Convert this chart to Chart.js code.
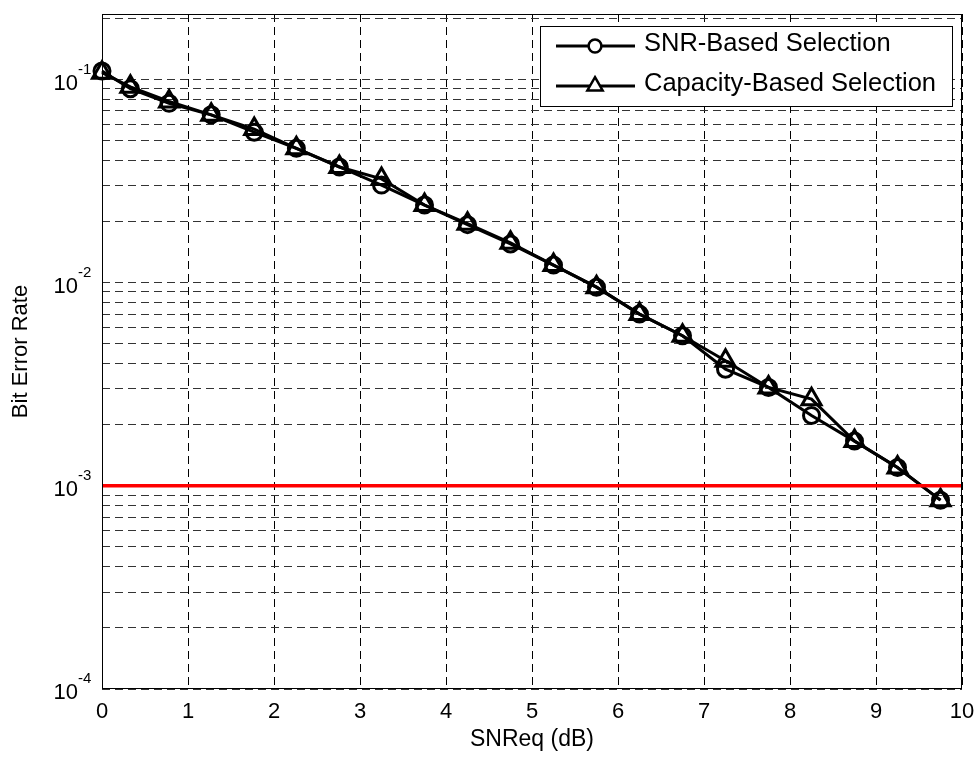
<!DOCTYPE html>
<html><head><meta charset="utf-8">
<script src="https://cdn.jsdelivr.net/npm/chart.js@4.4.1/dist/chart.umd.min.js"></script>
<style>html,body{margin:0;padding:0;background:#fff}#wrap{width:977px;height:758px}</style>
</head><body><div id="wrap"><canvas id="c" width="977" height="758"></canvas></div>
<script>
const snrDb = [0, 0.33, 0.78, 1.27, 1.77, 2.26, 2.76, 3.25, 3.75, 4.25, 4.75, 5.25, 5.75, 6.25, 6.75, 7.25, 7.75, 8.25, 8.75, 9.25, 9.75];
const berSnrBased = [0.110, 0.090, 0.0763, 0.067, 0.055, 0.0458, 0.0371, 0.0302, 0.0241, 0.0193, 0.0155, 0.0122, 0.0095, 0.0070, 0.00548, 0.00375, 0.00305, 0.00222, 0.00166, 0.00123, 0.00085];
const berCapacityBased = [0.108, 0.092, 0.078, 0.067, 0.057, 0.0458, 0.0371, 0.0324, 0.0241, 0.0195, 0.0157, 0.0122, 0.0095, 0.0070, 0.00548, 0.00413, 0.00305, 0.00267, 0.00166, 0.00123, 0.00085];
const targetBer = 1e-3;
const targetX = [0, 10];
const xTicks = [0, 1, 2, 3, 4, 5, 6, 7, 8, 9, 10];
const yDecades = [1e-4, 1e-3, 1e-2, 1e-1];
const yDecadeExponents = ['-4', '-3', '-2', '-1'];
const yMinorMultipliers = [2, 3, 4, 5, 6, 7, 8, 9];
const seriesNames = ['SNR-Based Selection', 'Capacity-Based Selection'];
const yMin = 1e-4, yMax = 0.21;

const FONT = '"Liberation Sans", Arial, sans-serif';

const overlay = {
  id: 'overlay',
  afterDraw(chart) {
    const ctx = chart.ctx, ca = chart.chartArea, ys = chart.scales.y;
    ctx.save();
    ctx.fillStyle = '#000';
    yDecades.forEach((v, i) => {
      const py = ys.getPixelForValue(v);
      ctx.font = '22px ' + FONT;
      ctx.textAlign = 'right'; ctx.textBaseline = 'middle';
      ctx.fillText('10', ca.left - 24, py + 4);
      ctx.font = '15px ' + FONT;
      ctx.textAlign = 'left';
      ctx.fillText(yDecadeExponents[i], ca.left - 24, py - 10);
    });
    const lx = 540, ly = 26, lw = 412, lh = 80;
    ctx.fillStyle = '#fff';
    ctx.fillRect(lx, ly, lw, lh);
    ctx.strokeStyle = '#000'; ctx.lineWidth = 1;
    ctx.strokeRect(lx + 0.5, ly + 0.5, lw, lh);
    const rows = [ly + 20, ly + 60];
    chart.data.datasets.slice(0, 2).forEach((ds, i) => {
      const yy = rows[i];
      ctx.strokeStyle = '#000'; ctx.lineWidth = 3;
      ctx.beginPath(); ctx.moveTo(556, yy); ctx.lineTo(635, yy); ctx.stroke();
      ctx.lineWidth = 2.5;
      ctx.fillStyle = '#fff';
      Chart.helpers.drawPoint(ctx, {pointStyle: ds.pointStyle, radius: ds.pointRadius * 0.8, rotation: 0, borderWidth: 2.5}, 595, yy);
      ctx.fillStyle = '#000';
      ctx.font = '25.5px ' + FONT;
      ctx.textAlign = 'left'; ctx.textBaseline = 'middle';
      ctx.fillText(ds.label, 644, yy - 2);
    });
    ctx.strokeStyle = '#000'; ctx.lineWidth = 1;
    ctx.strokeRect(Math.round(ca.left) + 0.5, Math.round(ca.top) + 0.5, Math.round(ca.right - ca.left) - 1, Math.round(ca.bottom - ca.top) - 1);
    ctx.restore();
  }
};

new Chart(document.getElementById('c'), {
  type: 'line',
  data: {
    datasets: [
      {
        label: seriesNames[0],
        data: snrDb.map((x, i) => ({x, y: berSnrBased[i]})),
        borderColor: '#000', borderWidth: 3,
        pointStyle: 'circle', pointRadius: 8, pointBorderWidth: 3,
        pointBackgroundColor: 'rgba(0,0,0,0)', pointBorderColor: '#000',
        tension: 0, clip: false, order: 2
      },
      {
        label: seriesNames[1],
        data: snrDb.map((x, i) => ({x, y: berCapacityBased[i]})),
        borderColor: '#000', borderWidth: 3,
        pointStyle: 'triangle', pointRadius: 11, pointBorderWidth: 3,
        pointBackgroundColor: 'rgba(0,0,0,0)', pointBorderColor: '#000',
        tension: 0, clip: false, order: 1
      },
      {
        label: 'target',
        data: targetX.map(x => ({x, y: targetBer})),
        borderColor: '#ff0000', borderWidth: 3.5, pointRadius: 0,
        tension: 0, order: 0
      }
    ]
  },
  options: {
    responsive: false, animation: false, devicePixelRatio: 1,
    layout: {padding: {top: 13, right: 15, left: 0, bottom: 0}},
    plugins: {legend: {display: false}, tooltip: {enabled: false}},
    scales: {
      x: {
        type: 'linear', min: 0, max: 10,
        afterBuildTicks: s => { s.ticks = xTicks.map(v => ({value: v})); },
        afterFit: s => { s.height = 69; s.paddingLeft = 0; s.paddingRight = 0; },
        grid: {color: '#000', lineWidth: 1, drawTicks: false},
        border: {display: false, dash: [8, 5]},
        ticks: {color: '#000', font: {family: FONT, size: 22}, padding: 10, maxRotation: 0, autoSkip: false},
        title: {display: true, text: 'SNReq (dB)', color: '#000', font: {family: FONT, size: 23}, padding: {top: 0, bottom: 5}}
      },
      y: {
        type: 'logarithmic', min: yMin, max: yMax,
        afterBuildTicks: s => {
          const t = [];
          yDecades.forEach(d => {
            t.push({value: d});
            yMinorMultipliers.forEach(m => { const v = d * m; if (v <= yMax * 1.0001) t.push({value: v}); });
          });
          s.ticks = t;
        },
        afterFit: s => { s.width = 102; s.paddingTop = 0; s.paddingBottom = 0; },
        grid: {color: '#333', lineWidth: 1, drawTicks: false},
        border: {display: false, dash: [8, 5]},
        ticks: {display: false},
        title: {display: true, text: 'Bit Error Rate', color: '#000', font: {family: FONT, size: 22}, padding: {top: 8, bottom: 0}}
      }
    }
  },
  plugins: [overlay]
});
</script></body></html>
